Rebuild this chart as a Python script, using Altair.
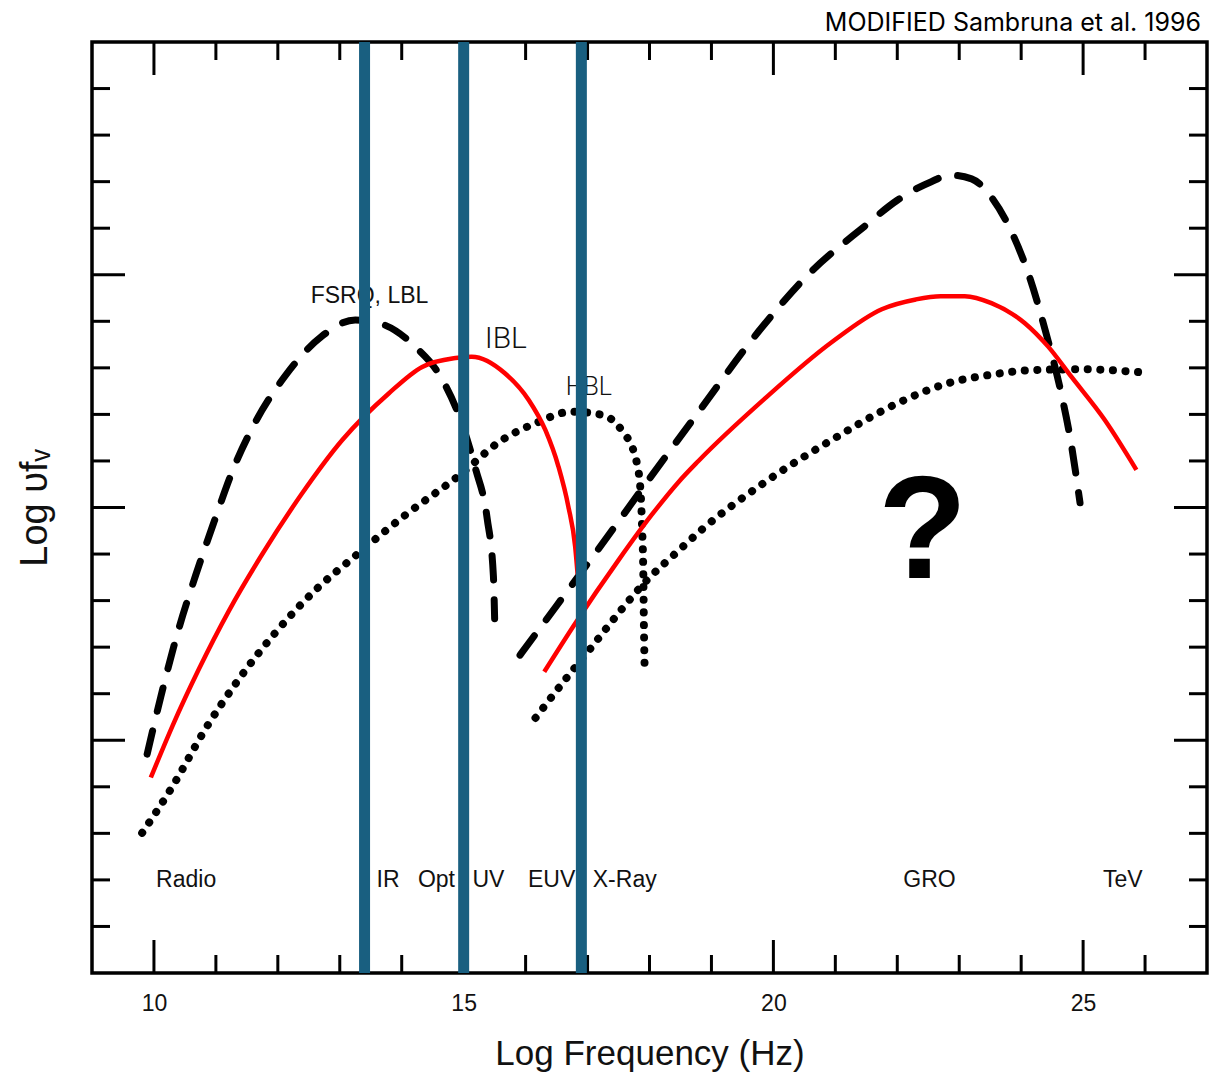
import altair as alt
import pandas as pd

# ---------------- data ----------------
# FSRQ / LBL (dashed)
fsrq_sync_x = [9.89, 10.11, 10.38, 10.67, 10.97, 11.26, 11.64, 12.12, 12.71, 13.25, 13.68, 14.22, 14.65, 14.92, 15.19, 15.38, 15.48, 15.50]
fsrq_sync_y = [4.70, 5.93, 7.30, 8.53, 9.69, 10.76, 11.84, 12.83, 13.68, 14.03, 13.94, 13.45, 12.76, 11.99, 10.84, 9.76, 8.53, 7.61]
fsrq_ic_x = [15.91, 16.50, 17.00, 17.50, 18.00, 18.79, 19.76, 20.56, 21.48, 22.00, 22.55, 22.85, 23.20, 23.50, 23.79, 24.14, 24.40, 24.63, 24.81, 24.95]
fsrq_ic_y = [6.83, 7.89, 8.79, 9.70, 10.62, 12.05, 13.78, 15.00, 16.05, 16.60, 17.00, 17.14, 17.06, 16.70, 16.07, 14.93, 13.75, 12.55, 11.35, 10.10]

# IBL (red)
ibl_sync_x = [9.95, 10.30, 10.73, 11.21, 11.75, 12.39, 13.04, 13.79, 14.33, 14.87, 15.13, 15.67, 16.05, 16.32, 16.53, 16.69, 16.80, 16.84]
ibl_sync_y = [4.20, 5.31, 6.54, 7.78, 9.00, 10.30, 11.45, 12.45, 13.02, 13.21, 13.24, 12.88, 12.31, 11.66, 10.88, 10.02, 9.16, 8.56]
ibl_ic_x = [16.30, 16.80, 17.50, 18.04, 18.47, 18.79, 19.87, 20.94, 21.75, 22.30, 22.70, 23.09, 23.52, 24.06, 24.44, 24.81, 25.35, 25.86]
ibl_ic_y = [6.47, 7.51, 8.87, 9.85, 10.55, 11.00, 12.35, 13.55, 14.26, 14.47, 14.54, 14.54, 14.39, 13.96, 13.45, 12.81, 11.88, 10.81]

# HBL (dotted)
hbl_sync_x = [9.81, 10.30, 10.83, 11.37, 11.96, 12.61, 13.25, 14.06, 14.92, 15.62, 16.16, 16.75, 17.23, 17.55, 17.77, 17.85, 17.88, 17.90, 17.91, 17.92]
hbl_sync_y = [3.01, 4.01, 5.24, 6.31, 7.31, 8.23, 8.96, 9.84, 10.68, 11.45, 11.81, 12.06, 11.99, 11.66, 11.09, 10.45, 9.59, 8.59, 7.44, 6.65]
hbl_ic_x = [16.16, 16.59, 17.07, 17.50, 17.93, 18.45, 18.84, 19.87, 20.94, 22.02, 22.82, 23.50, 24.17, 24.97, 25.97]
hbl_ic_y = [5.48, 6.22, 7.01, 7.73, 8.40, 9.05, 9.52, 10.55, 11.45, 12.25, 12.67, 12.85, 12.95, 12.97, 12.90]

# band labels along the bottom
band_names = ["Radio", "IR", "Opt", "UV", "EUV", "X-Ray", "GRO", "TeV"]
band_x = [10.52, 13.78, 14.56, 15.40, 16.42, 17.60, 22.52, 25.64]
band_y = [2.0] * len(band_names)

# curve labels
fsrq_label = ["FSRQ, LBL"]; fsrq_label_x = [13.48]; fsrq_label_y = [14.54]
ibl_label = ["IBL"]; ibl_label_x = [15.68]; ibl_label_y = [13.63]
hbl_label = ["HBL"]; hbl_label_x = [17.02]; hbl_label_y = [12.59]
q_label = ["?"]; q_x = [22.41]; q_y = [8.49]

# vertical blue markers
blue_x = [13.40, 15.00, 16.90]

# tick positions
x_major = [10, 15, 20, 25]
x_minor = [11, 12, 13, 14, 16, 17, 18, 19, 21, 22, 23, 24, 26]
y_major = [5, 10, 15]
y_minor = [v for v in range(1, 20) if v not in y_major]

# ---------------- chart ----------------
W, H = 1115, 931
FONT = "Liberation Sans"
xs = alt.Scale(domain=[9, 27], nice=False, zero=False)
ys = alt.Scale(domain=[0, 20], nice=False, zero=False)

xa = alt.Axis(values=x_major, title="Log Frequency (Hz)", ticks=False, domain=False, grid=False,
              labelFontSize=23, labelFont=FONT, labelColor="#111111", labelPadding=19, format="d",
              labelFlush=False, titleFontSize=35, titleFont=FONT, titleFontWeight="normal",
              titleColor="#111111", titlePadding=21)
ya = alt.Axis(labels=False, ticks=False, domain=False, grid=False, title="Log υfᵥ",
              titleFontSize=38, titleFont=FONT, titleFontWeight="normal", titleColor="#111111",
              titlePadding=38)


def curves(names, xl, yl):
    frames = []
    for n, cx, cy in zip(names, xl, yl):
        frames.append(pd.DataFrame({"curve": n, "i": list(range(len(cx))), "x": cx, "y": cy}))
    return pd.concat(frames, ignore_index=True)


def line_layer(df, **mark):
    return alt.Chart(df).mark_line(interpolate="monotone", **mark).encode(
        x=alt.X("x:Q", scale=xs, axis=xa),
        y=alt.Y("y:Q", scale=ys, axis=ya),
        detail="curve:N",
        order="i:Q",
    )


dashed_df = curves(["fsrq_sync", "fsrq_ic"], [fsrq_sync_x, fsrq_ic_x], [fsrq_sync_y, fsrq_ic_y])
red_df = curves(["ibl_sync", "ibl_ic"], [ibl_sync_x, ibl_ic_x], [ibl_sync_y, ibl_ic_y])
dot_df = curves(["hbl_sync", "hbl_ic"], [hbl_sync_x, hbl_ic_x], [hbl_sync_y, hbl_ic_y])

dashed = line_layer(dashed_df, color="black", strokeWidth=7, strokeDash=[24, 20], strokeCap="round")
dotted = line_layer(dot_df, color="black", strokeWidth=8, strokeDash=[0.1, 12.5], strokeCap="round")
red = line_layer(red_df, color="#ff0000", strokeWidth=4.5)


def text_layer(labels, tx, ty, **mark):
    df = pd.DataFrame({"t": labels, "x": tx, "y": ty})
    return alt.Chart(df).mark_text(**mark).encode(
        x=alt.X("x:Q", scale=xs, axis=xa),
        y=alt.Y("y:Q", scale=ys, axis=ya),
        text="t:N",
    )


bands = text_layer(band_names, band_x, band_y, font=FONT, fontSize=23, color="#111111",
                   align="center", baseline="middle")
lab_fsrq = text_layer(fsrq_label, fsrq_label_x, fsrq_label_y, font=FONT, fontSize=23,
                      color="#111111", align="center", baseline="middle")
lab_ibl = text_layer(ibl_label, ibl_label_x, ibl_label_y, font="Roboto", fontWeight=300,
                     fontSize=30, color="#111111", align="center", baseline="middle")
lab_hbl = text_layer(hbl_label, hbl_label_x, hbl_label_y, font="Roboto", fontWeight=300,
                     fontSize=25, color="#111111", align="center", baseline="middle")
lab_q = text_layer(q_label, q_x, q_y, font=FONT, fontWeight="bold", fontSize=146,
                   color="black", align="center", baseline="alphabetic")

MAJ, MIN = 33, 18


def xticks(vals, length, top):
    df = pd.DataFrame({"v": vals})
    y0, y1 = (0, length) if top else (H, H - length)
    return alt.Chart(df).mark_rule(color="black", strokeWidth=3).encode(
        x=alt.X("v:Q", scale=xs, axis=xa), y=alt.value(y0), y2=alt.value(y1))


def yticks(vals, length, left):
    df = pd.DataFrame({"v": vals})
    x0, x1 = (0, length) if left else (W, W - length)
    return alt.Chart(df).mark_rule(color="black", strokeWidth=3).encode(
        y=alt.Y("v:Q", scale=ys, axis=ya), x=alt.value(x0), x2=alt.value(x1))


ticks = [
    xticks(x_major, MAJ, True), xticks(x_minor, MIN, True),
    xticks(x_major, MAJ, False), xticks(x_minor, MIN, False),
    yticks(y_major, MAJ, True), yticks(y_minor, MIN, True),
    yticks(y_major, MAJ, False), yticks(y_minor, MIN, False),
]

blue = alt.Chart(pd.DataFrame({"v": blue_x})).mark_rule(color="#195f80", strokeWidth=11).encode(
    x=alt.X("v:Q", scale=xs, axis=xa))

chart = alt.layer(
    *ticks, dashed, dotted, red, bands, lab_fsrq, lab_ibl, lab_hbl, lab_q, blue
).properties(
    width=W, height=H,
    background="white",
    title=alt.TitleParams("MODIFIED Sambruna et al. 1996", anchor="end", fontSize=25, font="Inter",
                          fontWeight="normal", color="black", offset=1, dx=-6, frame="group"),
    autosize=alt.AutoSizeParams(type="none"),
    padding={"left": 84, "top": 34, "right": 2, "bottom": 100},
).configure_view(stroke="black", strokeWidth=3.5)

chart.save("out.html", embed_options={"renderer": "svg", "actions": False})
